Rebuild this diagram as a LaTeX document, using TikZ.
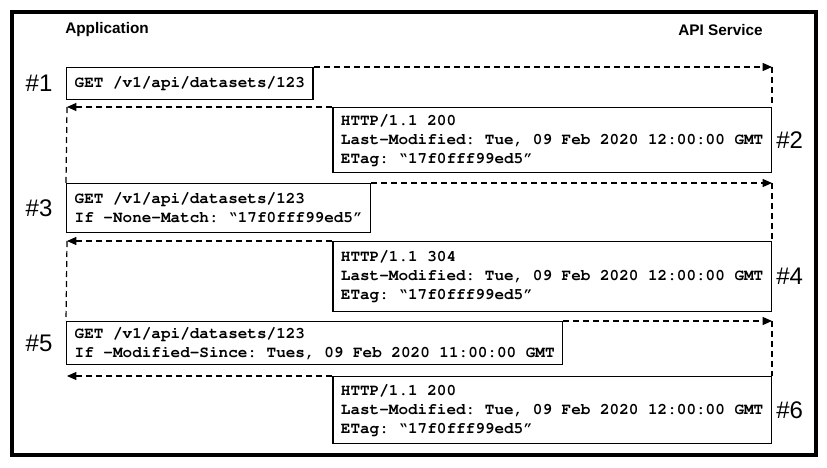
\documentclass[tikz,border=0pt]{standalone}
\usepackage[T1]{fontenc}
\usepackage{fontspec}
\setmainfont{Liberation Sans}
\usetikzlibrary{arrows.meta,positioning}
\newcommand{\codefont}{\fontencoding{T1}\fontfamily{pcr}\fontseries{b}\selectfont\frenchspacing}
\newcommand{\etagval}{\textquotedblleft 17f0fff99ed5\textquotedblright}

\begin{document}
\begin{tikzpicture}[x=0.75pt,y=-0.75pt]
    % Styles for boxes, tags and calls
    \tikzstyle{msg} = [draw, line width=1pt, align=left, inner xsep=6pt, inner ysep=0pt, font=\codefont\fontsize{12}{14.25}\selectfont]
    \tikzstyle{tag} = [inner sep=0pt, font=\fontsize{18}{20}\selectfont]
    \tikzstyle{side} = [inner sep=0pt, font=\bfseries\fontsize{11.5}{13}\selectfont]
    \tikzstyle{call} = [dash pattern=on 4.5pt off 3pt, line width=0.9pt]
    \tikzstyle{tip} = [-{Triangle[length=7pt,width=6pt]}]

    \useasboundingbox (0,0) rectangle (827,467);
    \draw[line width=2.6pt] (12,12) rectangle (816,455);

    % Sides
    \node[side, anchor=west] (app) at (65,30) {Application};
    \node[side, anchor=east] (api) at (763,30) {API Service};

    % Requests and responses
    \node[msg, anchor=north west, minimum height=24pt] (req1) at (66,67) {GET /v1/api/datasets/123};
    \node[msg, anchor=north east, minimum height=48.75pt] (res1) at (772,107) {HTTP/1.1 200\\Last-Modified: Tue, 09 Feb 2020 12:00:00 GMT\\ETag: \etagval};
    \node[msg, anchor=north west, minimum height=36.75pt] (req2) at (66,183) {GET /v1/api/datasets/123\\If -None-Match: \etagval};
    \node[msg, anchor=north east, minimum height=52.5pt] (res2) at (772,241) {HTTP/1.1 304\\Last-Modified: Tue, 09 Feb 2020 12:00:00 GMT\\ETag: \etagval};
    \node[msg, anchor=north west, minimum height=32.25pt] (req3) at (66,321) {GET /v1/api/datasets/123\\If -Modified-Since: Tues, 09 Feb 2020 11:00:00 GMT};
    \node[msg, anchor=north east, minimum height=50.25pt] (res3) at (772,376) {HTTP/1.1 200\\Last-Modified: Tue, 09 Feb 2020 12:00:00 GMT\\ETag: \etagval};

    % Step numbers
    \node[tag, left=10pt of req1] (n1) {\#1};
    \node[tag, right=3pt of res1] (n2) {\#2};
    \node[tag, left=10pt of req2] (n3) {\#3};
    \node[tag, right=3pt of res2] (n4) {\#4};
    \node[tag, left=10pt of req3] (n5) {\#5};
    \node[tag, right=3pt of res3] (n6) {\#6};

    % Turning points
    \coordinate (in1) at (772,67);
    \coordinate (out1) at (67,107);
    \coordinate (in2) at (772,183);
    \coordinate (out2) at (67,241);
    \coordinate (in3) at (772,321);
    \coordinate (out3) at (67,376);

    % Calls
    \draw[call, tip] (req1.north east) -- (in1);
    \draw[call] (in1) -- (res1.north east);
    \draw[call, tip] (res1.north west) -- (out1);
    \draw[call] (out1) -- (req2.north west);
    \draw[call, tip] (req2.north east) -- (in2);
    \draw[call] (in2) -- (res2.north east);
    \draw[call, tip] (res2.north west) -- (out2);
    \draw[call] (out2) -- (req3.north west);
    \draw[call, tip] (req3.north east) -- (in3);
    \draw[call] (in3) -- (res3.north east);
    \draw[call, tip] (res3.north west) -- (out3);
\end{tikzpicture}
\end{document}
